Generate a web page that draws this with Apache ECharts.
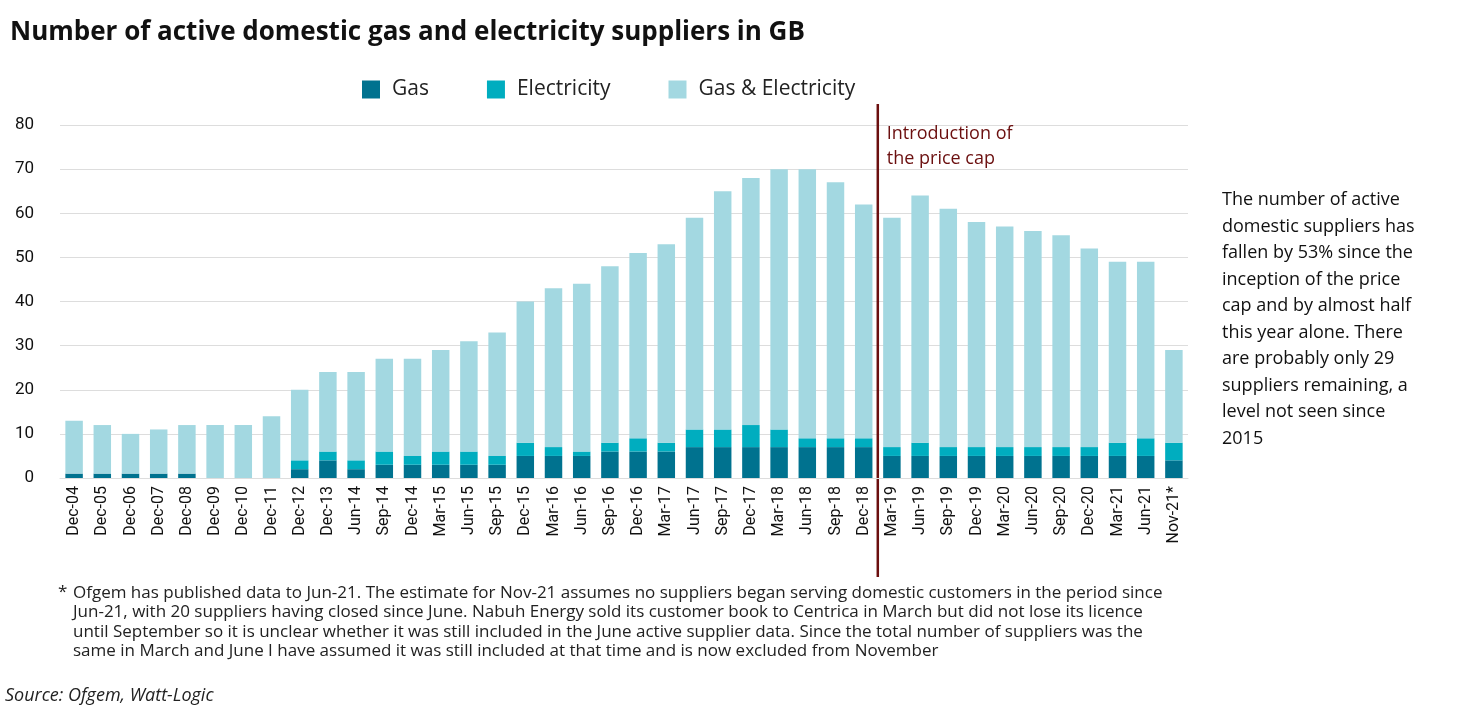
<!DOCTYPE html>
<html>
<head>
<meta charset="utf-8">
<script src="https://cdn.jsdelivr.net/npm/echarts@6/dist/echarts.min.js"></script>
<style>
  html, body { margin: 0; padding: 0; background: #fff; }
  #chart { width: 1470px; height: 717px; }
</style>
</head>
<body>
<div id="chart"></div>
<script>
const categories = ['Dec-04','Dec-05','Dec-06','Dec-07','Dec-08','Dec-09','Dec-10','Dec-11','Dec-12','Dec-13',
  'Jun-14','Sep-14','Dec-14','Mar-15','Jun-15','Sep-15','Dec-15','Mar-16','Jun-16','Sep-16',
  'Dec-16','Mar-17','Jun-17','Sep-17','Dec-17','Mar-18','Jun-18','Sep-18','Dec-18','Mar-19',
  'Jun-19','Sep-19','Dec-19','Mar-20','Jun-20','Sep-20','Dec-20','Mar-21','Jun-21','Nov-21*']
const totals = [13,12,10,11,12,12,12,14,20,24, 24,27,27,29,31,33,40,43,44,48,
  51,53,59,65,68,70,70,67,62,59, 64,61,58,57,56,55,52,49,49,29]
const gas = [1,1,1,1,1,0,0,0,2,4, 2,3,3,3,3,3,5,5,5,6,
  6,6,7,7,7,7,7,7,7,5, 5,5,5,5,5,5,5,5,5,4]
const electricity = [0,0,0,0,0,0,0,0,2,2, 2,3,2,3,3,2,3,2,1,2,
  3,2,4,4,5,4,2,2,2,2, 3,2,2,2,2,2,2,3,4,4]
const gasAndElec = totals.map((t, i) => t - gas[i] - electricity[i])
const yTicks = { min: 0, max: 80, interval: 10 }

const font = 'Roboto'
const wide = '"Open Sans"'
const chart = echarts.init(document.getElementById('chart'))

const bar = (name, data, color) => ({
  name, type: 'bar', stack: 'all', data, barWidth: '62%',
  itemStyle: { color }
})

chart.setOption({
  textStyle: { fontFamily: font },
  title: {
    text: 'Number of active domestic gas and electricity suppliers in GB',
    left: 5, top: 15,
    textStyle: { fontSize: 26, fontWeight: 'bold', color: '#111', fontFamily: wide }
  },
  legend: {
    top: 74, left: 357, itemGap: 58, itemWidth: 18, itemHeight: 18,
    icon: 'rect',
    textStyle: { fontSize: 21, color: '#222', padding: [0, 0, 0, 7], fontFamily: wide },
    data: ['Gas', 'Electricity', 'Gas & Electricity']
  },
  grid: { left: 60, right: 282, top: 125, bottom: 239 },
  xAxis: {
    type: 'category', data: categories,
    axisTick: { show: false },
    axisLine: { lineStyle: { color: '#ddd' } },
    axisLabel: { rotate: 90, fontSize: 16, color: '#111', interval: 0, margin: 8 }
  },
  yAxis: {
    type: 'value', min: yTicks.min, max: yTicks.max, interval: yTicks.interval,
    axisLabel: { fontSize: 17, color: '#111', margin: 26 },
    splitLine: { lineStyle: { color: '#ddd' } }
  },
  series: [
    bar('Gas', gas, '#00728f'),
    bar('Electricity', electricity, '#00adbf'),
    bar('Gas & Electricity', gasAndElec, '#a3d8e1')
  ]
})

// vertical marker between Dec-18 and Mar-19
const x1 = chart.convertToPixel({ xAxisIndex: 0 }, 'Dec-18')
const x2 = chart.convertToPixel({ xAxisIndex: 0 }, 'Mar-19')
const xm = (x1 + x2) / 2

chart.setOption({
  graphic: [
    { type: 'line', shape: { x1: xm, y1: 104, x2: xm, y2: 577 },
      style: { stroke: '#6b0f0f', lineWidth: 2.5 } },
    { type: 'text', left: xm + 9, top: 121,
      style: { text: 'Introduction of\nthe price cap', fill: '#6b0f0f', font: '18px ' + wide, lineHeight: 25 } },
    { type: 'text', left: 1222, top: 187,
      style: { text: 'The number of active\ndomestic suppliers has\nfallen by 53% since the\ninception of the price\ncap and by almost half\nthis year alone. There\nare probably only 29\nsuppliers remaining, a\nlevel not seen since\n2015',
        fill: '#111', font: '18px ' + wide, lineHeight: 26.5 } },
    { type: 'text', left: 58, top: 584,
      style: { text: '*', fill: '#222', font: '17px ' + wide } },
    { type: 'text', left: 73, top: 583,
      style: { text: 'Ofgem has published data to Jun-21. The estimate for Nov-21 assumes no suppliers began serving domestic customers in the period since\nJun-21, with 20 suppliers having closed since June. Nabuh Energy sold its customer book to Centrica in March but did not lose its licence\nuntil September so it is unclear whether it was still included in the June active supplier data. Since the total number of suppliers was the\nsame in March and June I have assumed it was still included at that time and is now excluded from November',
        fill: '#222', font: '17px ' + wide, lineHeight: 19.5 } },
    { type: 'text', left: 5, top: 687,
      style: { text: 'Source: Ofgem, Watt-Logic', fill: '#222', font: 'italic 18px ' + wide } }
  ]
})
</script>
</body>
</html>
